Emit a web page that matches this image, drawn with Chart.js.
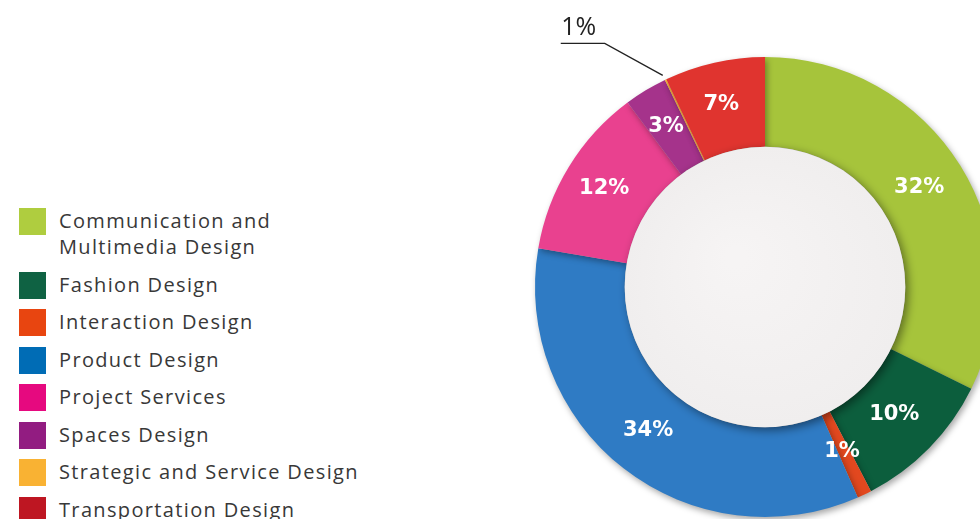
<!DOCTYPE html>
<html>
<head>
<meta charset="utf-8">
<script src="https://cdn.jsdelivr.net/npm/chart.js@4"></script>
<style>
  html, body { margin: 0; padding: 0; background: #fff; width: 980px; height: 519px; overflow: hidden; }
  #legend { position: absolute; left: 19px; top: 208px; font-family: "Open Sans", sans-serif; font-size: 20px; color: #383838; letter-spacing: 1.35px; }
  .item { position: relative; padding-left: 40px; line-height: 26px; margin-bottom: 11.5px; white-space: nowrap; }
  .item span.sw { position: absolute; left: 0; top: 0; width: 27px; height: 27px; }
  #wrap { position: absolute; left: 500px; top: 0; width: 530px; height: 574px; }
</style>
</head>
<body>
<div id="legend"></div>
<div id="wrap"><canvas id="donut"></canvas></div>
<script>
document.addEventListener("DOMContentLoaded", function () {
  // categories in drawing order (clockwise from 12 o'clock)
  const categories = ['Communication and Multimedia Design', 'Fashion Design', 'Interaction Design', 'Product Design',
    'Project Services', 'Spaces Design', 'Strategic and Service Design', 'Transportation Design'];
  const shares = [32, 10, 1, 34, 12, 3, 0.1, 7];
  const shareLabels = ['32%', '10%', '1%', '34%', '12%', '3%', '1%', '7%'];
  const sliceColors = ['#a6c43b', '#0c5e3d', '#e2481f', '#2f7bc4', '#e9418f', '#a5338b', '#f9b233', '#e0342f'];
  const legendColors = ['#afcd3f', '#0f6243', '#e84510', '#006cb5', '#e6097f', '#921c81', '#f9b233', '#be1622'];
  const legendText = ['Communication and<br>Multimedia Design', 'Fashion Design', 'Interaction Design', 'Product Design',
    'Project Services', 'Spaces Design', 'Strategic and Service Design', 'Transportation Design'];

  // html legend
  const legend = document.getElementById('legend');
  legendText.forEach(function (t, i) {
    const d = document.createElement('div');
    d.className = 'item';
    d.innerHTML = '<span class="sw" style="background:' + legendColors[i] + '"></span>' + t;
    legend.appendChild(d);
  });

  // shadow under the ring
  const ringShadow = {
    id: 'ringShadow',
    beforeDatasetsDraw(chart) {
      const ctx = chart.ctx;
      ctx.save();
      ctx.shadowColor = 'rgba(0,0,0,0.35)';
      ctx.shadowBlur = 6;
      ctx.shadowOffsetX = 2;
      ctx.shadowOffsetY = 3;
    },
    afterDatasetsDraw(chart) {
      chart.ctx.restore();
    }
  };

  // inner disc + labels
  const decor = {
    id: 'decor',
    afterDraw(chart) {
      const ctx = chart.ctx;
      const meta = chart.getDatasetMeta(0);
      const a0 = meta.data[0];
      ctx.save();
      ctx.shadowColor = 'rgba(0,0,0,0.45)';
      ctx.shadowBlur = 10;
      ctx.shadowOffsetX = 3;
      ctx.shadowOffsetY = 3;
      const g = ctx.createRadialGradient(a0.x - 30, a0.y - 30, 10, a0.x, a0.y, a0.innerRadius);
      g.addColorStop(0, '#f6f4f4');
      g.addColorStop(1, '#f0eeee');
      ctx.fillStyle = g;
      ctx.beginPath();
      ctx.arc(a0.x, a0.y, a0.innerRadius, 0, Math.PI * 2);
      ctx.fill();
      ctx.restore();

      ctx.save();
      ctx.textAlign = 'center';
      ctx.textBaseline = 'middle';
      meta.data.forEach(function (arc, i) {
        if (i === 6) {
          // tiny slice, label outside with leader line
          const ang = arc.startAngle;
          const px = arc.x + Math.cos(ang) * (arc.outerRadius + 5);
          const py = arc.y + Math.sin(ang) * (arc.outerRadius + 5);
          ctx.strokeStyle = '#222';
          ctx.lineWidth = 1.3;
          ctx.beginPath();
          ctx.moveTo(px, py);
          ctx.lineTo(px - 58, py - 32);
          ctx.lineTo(px - 102, py - 32);
          ctx.stroke();
          ctx.fillStyle = '#222';
          ctx.font = '400 25px "Open Sans", sans-serif';
          ctx.fillText(shareLabels[i], px - 84, py - 48);
          return;
        }
        const p = arc.tooltipPosition();
        ctx.fillStyle = '#fff';
        ctx.font = '700 21px "DejaVu Sans", sans-serif';
        ctx.fillText(shareLabels[i], p.x - 3, p.y - 2);
      });
      ctx.restore();
    }
  };

  new Chart(document.getElementById('donut').getContext('2d'), {
    type: 'doughnut',
    data: {
      labels: categories,
      datasets: [{
        data: shares,
        backgroundColor: sliceColors,
        borderWidth: 0
      }]
    },
    options: {
      responsive: true,
      maintainAspectRatio: false,
      animation: false,
      cutout: '61%',
      layout: { padding: { left: 35, right: 35, top: 57, bottom: 57 } },
      plugins: {
        legend: { display: false },
        tooltip: { enabled: false }
      }
    },
    plugins: [ringShadow, decor]
  });
});
</script>
</body>
</html>
